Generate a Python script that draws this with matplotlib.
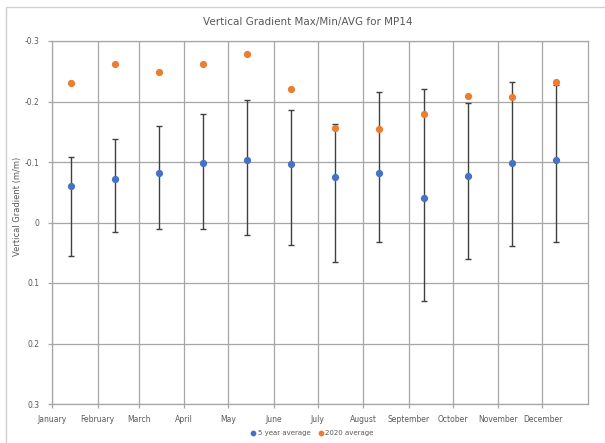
import matplotlib
matplotlib.use("Agg")
import matplotlib.pyplot as plt
from matplotlib.patches import Rectangle
import numpy as np

months = ["January", "February", "March", "April", "May", "June", "July",
          "August", "September", "October", "November", "December"]
month_start_day = [0, 31, 59, 90, 120, 151, 181, 212, 243, 273, 304, 334]
point_day = [13, 43, 73, 103, 133, 163, 193, 223, 253, 283, 313, 343]

avg5 = [-0.061, -0.072, -0.081, -0.099, -0.103, -0.097, -0.075, -0.081, -0.040, -0.077, -0.098, -0.104]
max5 = [-0.108, -0.138, -0.159, -0.179, -0.203, -0.186, -0.162, -0.216, -0.220, -0.198, -0.232, -0.227]
min5 = [0.056, 0.016, 0.010, 0.010, 0.020, 0.037, 0.066, 0.032, 0.130, 0.060, 0.039, 0.033]
avg2020 = [-0.231, -0.262, -0.248, -0.262, -0.278, -0.221, -0.156, -0.154, -0.180, -0.209, -0.208, -0.233]

yticks = [-0.3, -0.2, -0.1, 0, 0.1, 0.2, 0.3]
ytick_labels = ["-0.3", "-0.2", "-0.1", "0", "0.1", "0.2", "0.3"]

text_c = "#595959"
grid_c = "#A6A6A6"

fig = plt.figure(figsize=(6.05, 4.43), dpi=100)
fig.patches.append(Rectangle((6 / 605, -0.05), 1.1, 1 - 7 / 443 + 0.05, transform=fig.transFigure,
                             fill=False, edgecolor="#D0D0D0", linewidth=1.0))
ax = fig.add_axes([52 / 605, 1 - 404 / 443, (588 - 52) / 605, (404 - 41) / 443])

a5 = np.array(avg5)
lower = a5 - np.array(max5)   # toward top (more negative)
upper = np.array(min5) - a5
ax.errorbar(point_day, avg5, yerr=[lower, upper], fmt="none", ecolor="#404040",
            elinewidth=1.0, capsize=2.3, capthick=1.0, zorder=3)
ax.plot(point_day, avg5, "o", color="#4472C4", markersize=4.2, zorder=4, label="5 year average")
ax.plot(point_day, avg2020, "o", color="#ED7D31", markersize=4.2, zorder=4, label="2020 average")

ax.set_xlim(0, 365)
ax.set_ylim(0.3, -0.3)
ax.set_xticks(month_start_day)
ax.set_xticklabels(months)
ax.set_yticks(yticks)
ax.set_yticklabels(ytick_labels)
ax.grid(True, color=grid_c, linewidth=0.9)
ax.set_axisbelow(True)
for s in ax.spines.values():
    s.set_color(grid_c)
    s.set_linewidth(0.9)
ax.tick_params(axis="both", colors=grid_c, labelcolor=text_c, labelsize=5.5, length=3, width=0.9)
ax.tick_params(axis="x", pad=5)
ax.tick_params(axis="y", pad=6)

ax.set_ylabel("Vertical Gradient (m/m)", fontsize=6, color=text_c)
ax.yaxis.set_label_coords(-0.056, 0.545)
fig.text(308 / 605, 1 - 22 / 443, "Vertical Gradient Max/Min/AVG for MP14", ha="center", va="center",
         fontsize=7.5, color=text_c)

fig.legend(loc="center", bbox_to_anchor=(0.515, 1 - 433 / 443), ncol=2, frameon=False,
           fontsize=5, labelcolor=text_c, handletextpad=0.1, columnspacing=1.0,
           markerscale=0.75, handlelength=1.0)

fig.savefig("out.png", dpi=100)
